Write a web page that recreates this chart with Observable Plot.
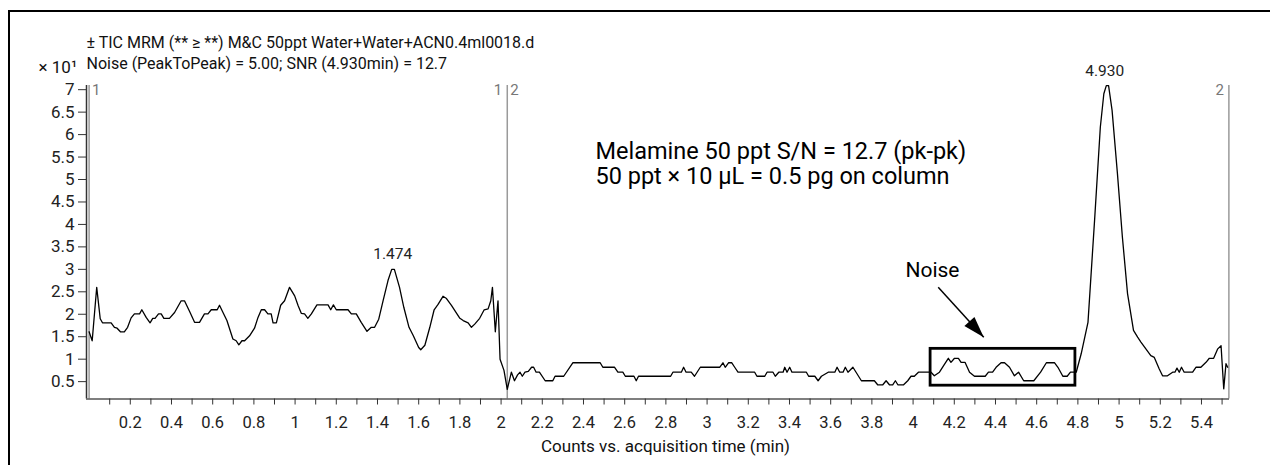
<!DOCTYPE html>
<html>
<head>
<meta charset="utf-8">
<script src="https://cdn.jsdelivr.net/npm/d3@7"></script>
<script src="https://cdn.jsdelivr.net/npm/@observablehq/plot@0.6"></script>
<style>
  html, body { margin: 0; padding: 0; background: #fff; }
  #chart { width: 1270px; height: 465px; overflow: hidden; }
</style>
</head>
<body>
<div id="chart"></div>
<script>
// ---- data (time in min, counts ×10^1) ----
const times = [
  0.0, 0.015, 0.037, 0.054, 0.065, 0.107, 0.123, 0.136, 0.152, 0.171, 0.187, 0.204, 0.22, 0.245, 0.256, 0.277, 0.296, 0.309, 0.32, 0.337,
  0.35, 0.363, 0.39, 0.415, 0.447, 0.463, 0.488, 0.512, 0.536, 0.56, 0.577, 0.593, 0.622, 0.633, 0.65, 0.669, 0.698, 0.714, 0.727, 0.742,
  0.755, 0.779, 0.803, 0.82, 0.836, 0.852, 0.868, 0.884, 0.893, 0.909, 0.93, 0.949, 0.973, 0.998, 1.014, 1.03, 1.046, 1.062, 1.079, 1.106,
  1.16, 1.173, 1.186, 1.2, 1.257, 1.273, 1.297, 1.321, 1.349, 1.37, 1.386, 1.406, 1.427, 1.451, 1.469, 1.482, 1.507, 1.528, 1.553, 1.574,
  1.6, 1.61, 1.63, 1.654, 1.675, 1.694, 1.718, 1.735, 1.759, 1.8, 1.816, 1.84, 1.856, 1.872, 1.896, 1.918, 1.937, 1.95, 1.958, 1.972,
  1.985, 1.995, 2.014, 2.03, 2.05, 2.065, 2.08, 2.092, 2.103, 2.116, 2.132, 2.148, 2.158, 2.17, 2.186, 2.214, 2.251, 2.262, 2.304, 2.348,
  2.481, 2.494, 2.551, 2.567, 2.591, 2.603, 2.645, 2.656, 2.667, 2.823, 2.834, 2.875, 2.886, 2.898, 2.923, 2.939, 2.967, 3.061, 3.077, 3.088,
  3.104, 3.12, 3.134, 3.15, 3.231, 3.242, 3.28, 3.291, 3.32, 3.331, 3.348, 3.369, 3.377, 3.388, 3.401, 3.412, 3.482, 3.493, 3.523, 3.539,
  3.555, 3.588, 3.62, 3.631, 3.644, 3.66, 3.671, 3.684, 3.708, 3.749, 3.812, 3.828, 3.853, 3.869, 3.885, 3.901, 3.914, 3.926, 3.954, 3.974,
  3.99, 4.006, 4.026, 4.087, 4.103, 4.128, 4.149, 4.171, 4.184, 4.201, 4.22, 4.233, 4.252, 4.274, 4.298, 4.35, 4.366, 4.386, 4.403, 4.427,
  4.444, 4.468, 4.492, 4.512, 4.537, 4.586, 4.619, 4.647, 4.687, 4.703, 4.727, 4.748, 4.764, 4.792, 4.816, 4.849, 4.881, 4.909, 4.926, 4.938,
  4.949, 4.966, 4.992, 5.016, 5.041, 5.07, 5.09, 5.106, 5.13, 5.154, 5.171, 5.195, 5.211, 5.235, 5.26, 5.271, 5.281, 5.292, 5.303, 5.316,
  5.357, 5.373, 5.397, 5.422, 5.438, 5.459, 5.479, 5.495, 5.508, 5.519, 5.527
];
const counts = [
  1.61, 1.41, 2.6, 1.9, 1.81, 1.81, 1.71, 1.69, 1.61, 1.61, 1.71, 1.92, 2.01, 2.01, 2.1, 1.93, 1.81, 1.91, 1.91, 2.01,
  2.01, 1.91, 1.91, 2.04, 2.3, 2.3, 2.06, 1.82, 1.82, 2.01, 2.01, 2.1, 2.1, 2.2, 2.04, 1.86, 1.45, 1.41, 1.32, 1.41,
  1.41, 1.52, 1.69, 1.93, 2.1, 2.1, 2.01, 2.01, 1.81, 1.81, 2.2, 2.3, 2.6, 2.41, 2.2, 2.02, 2.01, 1.91, 2.01, 2.21,
  2.21, 2.1, 2.21, 2.1, 2.1, 2.01, 2.01, 1.82, 1.62, 1.71, 1.71, 1.89, 2.3, 2.75, 3.0, 3.0, 2.6, 2.15, 1.71, 1.52,
  1.26, 1.21, 1.31, 1.71, 2.1, 2.22, 2.4, 2.35, 2.2, 1.91, 1.86, 1.81, 1.71, 1.78, 1.91, 2.1, 2.12, 2.3, 2.6, 1.61,
  2.3, 1.0, 0.75, 0.33, 0.71, 0.52, 0.65, 0.71, 0.62, 0.71, 0.73, 0.82, 0.82, 0.71, 0.71, 0.52, 0.52, 0.62, 0.62, 0.92,
  0.92, 0.82, 0.82, 0.71, 0.71, 0.62, 0.62, 0.52, 0.62, 0.62, 0.71, 0.71, 0.82, 0.71, 0.71, 0.62, 0.82, 0.82, 0.92, 0.82,
  0.92, 0.92, 0.82, 0.71, 0.71, 0.62, 0.62, 0.71, 0.71, 0.62, 0.71, 0.71, 0.82, 0.71, 0.82, 0.71, 0.71, 0.62, 0.62, 0.52,
  0.62, 0.71, 0.71, 0.82, 0.71, 0.71, 0.82, 0.71, 0.82, 0.52, 0.52, 0.43, 0.43, 0.52, 0.43, 0.43, 0.52, 0.43, 0.43, 0.52,
  0.62, 0.62, 0.71, 0.71, 0.63, 0.71, 0.86, 1.02, 0.93, 1.02, 1.02, 0.93, 0.93, 0.71, 0.62, 0.62, 0.71, 0.71, 0.82, 0.92,
  0.92, 0.82, 0.63, 0.71, 0.52, 0.52, 0.71, 0.92, 0.92, 0.82, 0.62, 0.62, 0.71, 0.71, 1.12, 1.82, 4.09, 6.17, 6.91, 7.09,
  7.09, 6.54, 5.13, 3.72, 2.46, 1.64, 1.49, 1.38, 1.23, 1.08, 1.04, 0.78, 0.63, 0.63, 0.71, 0.71, 0.8, 0.71, 0.82, 0.71,
  0.71, 0.82, 0.82, 0.93, 1.02, 1.02, 1.23, 1.3, 0.34, 0.9, 0.82
];

// axis ticks
const xMinorTicks = d3.range(1, 56).map(i => +(i / 10).toFixed(1));
const xLabelTicks = d3.range(1, 28).map(i => +(i / 5).toFixed(1));
const yTicks = d3.range(1, 15).map(i => i / 2);

// peak annotations
const peakTimes = [1.474, 4.930];
const peakCounts = [3.0, 7.09];
const peakLabels = ["1.474", "4.930"];

// segment markers
const segTimes = [0, 2.03, 5.533];
const segLabelRightTimes = [0, 2.03];
const segLabelRight = ["1", "2"];
const segLabelLeftTimes = [2.03, 5.533];
const segLabelLeft = ["1", "2"];

// header text
const headerLines = [
  "± TIC MRM (** ≥ **) M&C 50ppt Water+Water+ACN0.4ml0018.d",
  "Noise (PeakToPeak) = 5.00; SNR (4.930min) = 12.7"
];
const yMultiplier = "× 10¹";
const xTitle = "Counts vs. acquisition time (min)";

// in-plot annotation
const noteLines = ["Melamine 50 ppt S/N = 12.7 (pk-pk)", "50 ppt × 10 µL = 0.5 pg on column"];
const noteTime = [2.458, 2.458];
const noteCounts = [5.46, 4.89];
const noiseLabel = "Noise";
const noiseLabelPos = [4.094, 2.825];
const noiseBox = [{x1: 4.085, x2: 4.788, y1: 0.41, y2: 1.23}];
const noiseArrow = [{x1: 4.122, y1: 2.60, x2: 4.343, y2: 1.49}];

const xDomain = [-0.0126, 5.536];
const yDomain = [0.1135, 7.093];

const FONT = "Roboto, 'Liberation Sans', sans-serif";

const data = times.map((t, i) => ({t, v: counts[i]}));

// slim arrowhead with tip at origin, pointing up
const arrowHead = {
  draw(ctx, size) {
    const L = Math.sqrt(size);
    ctx.moveTo(0, 0);
    ctx.lineTo(-0.32 * L, L);
    ctx.lineTo(0.32 * L, L);
    ctx.closePath();
  }
};

const chart = Plot.plot({
  width: 1270,
  height: 465,
  marginLeft: 86,
  marginRight: 41,
  marginTop: 85,
  marginBottom: 66.5,
  style: {fontFamily: FONT, background: "#fff", overflow: "visible"},
  x: {domain: xDomain, axis: null},
  y: {domain: yDomain, axis: null},
  marks: [
    // segment markers
    Plot.ruleX(segTimes, {stroke: "#9a9a9a", strokeWidth: 1.5}),
    Plot.text(segLabelRightTimes, {x: d => d, text: (d, i) => segLabelRight[i], frameAnchor: "top", lineAnchor: "top", textAnchor: "start", dx: 3, dy: -1, fill: "#777", fontSize: 15}),
    Plot.text(segLabelLeftTimes, {x: d => d, text: (d, i) => segLabelLeft[i], frameAnchor: "top", lineAnchor: "top", textAnchor: "end", dx: -5, dy: -1, fill: "#777", fontSize: 15}),
    // axis lines
    Plot.ruleX([xDomain[0]], {stroke: "#333", strokeWidth: 1.5}),
    Plot.ruleY([yDomain[0]], {stroke: "#555", strokeWidth: 1.5}),
    // axes
    Plot.axisY(yTicks, {anchor: "left", tickSize: 8, tickPadding: 4, fontSize: 17, stroke: "#333", fill: "#222", tickFormat: d => String(d), label: null}),
    Plot.axisX(xMinorTicks, {anchor: "bottom", tickSize: 6, tickFormat: () => "", stroke: "#333", label: null}),
    Plot.axisX(xLabelTicks, {anchor: "bottom", tickSize: 0, tickPadding: 17, fontSize: 16.5, fill: "#222", tickFormat: d => String(d), label: null}),
    // chromatogram
    Plot.line(data, {x: "t", y: "v", stroke: "#000", strokeWidth: 1.3, curve: "linear"}),
    // peak labels
    Plot.text(peakTimes, {x: d => d, y: (d, i) => peakCounts[i], text: (d, i) => peakLabels[i], lineAnchor: "bottom", dy: -10, fontSize: 15.5, fill: "#222"}),
    // noise box + arrow
    Plot.rect(noiseBox, {x1: "x1", x2: "x2", y1: "y1", y2: "y2", fill: "none", stroke: "#000", strokeWidth: 2.8}),
    Plot.link(noiseArrow, {x1: "x1", y1: "y1", x2: "x2", y2: "y2", stroke: "#000", strokeWidth: 1.5}),
    Plot.dot(noiseArrow, {x: "x2", y: "y2", symbol: arrowHead, r: 12, fill: "#000", stroke: "none", rotate: 137.6}),
    Plot.text([noiseLabel], {x: noiseLabelPos[0], y: noiseLabelPos[1], text: d => d, lineAnchor: "bottom", fontSize: 21, fill: "#000"}),
    // big annotation
    Plot.text(noteLines, {x: (d, i) => noteTime[i], y: (d, i) => noteCounts[i], text: d => d, textAnchor: "start", lineAnchor: "bottom", fontSize: 23.5, fill: "#000"}),
    // header
    Plot.text(headerLines, {frameAnchor: "top-left", text: d => d, textAnchor: "start", lineAnchor: "bottom", fontSize: 16, fill: "#111"}),
    // x title
    Plot.text([xTitle], {frameAnchor: "bottom", text: d => d, lineAnchor: "bottom", dx: 7.5, dy: 53, fontSize: 17, fill: "#111"}),
    // y multiplier
    Plot.text([yMultiplier], {frameAnchor: "top-left", text: d => d, textAnchor: "start", lineAnchor: "bottom", dx: -48, dy: -13, fontSize: 17, fill: "#111"})
  ]
});

document.getElementById("chart").appendChild(chart);

// position header lines (two separate baselines)
const svg = d3.select(chart);
svg.selectAll("text").filter(function() { return headerLines.includes(this.textContent); })
  .attr("dy", function() { return this.textContent === headerLines[0] ? -38 : -17; });

// outer frame (left and top borders)
svg.append("path")
  .attr("d", "M9,470V11H1275")
  .attr("fill", "none")
  .attr("stroke", "#000")
  .attr("stroke-width", 2);
</script>
</body>
</html>
